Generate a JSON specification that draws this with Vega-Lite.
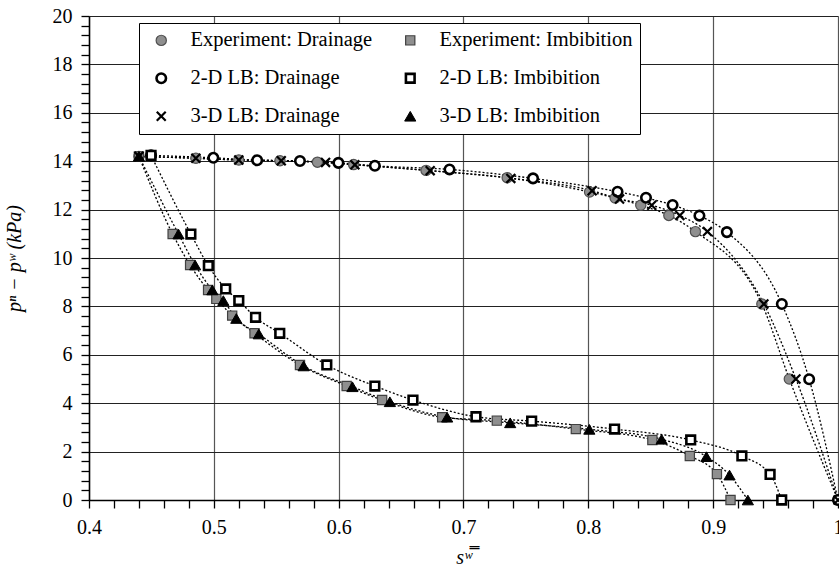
{
  "$schema": "https://vega.github.io/schema/vega-lite/v6.json",
  "width": 749,
  "height": 484,
  "autosize": {"type": "none"},
  "padding": {"left": 89, "top": 16, "right": 1, "bottom": 69},
  "background": "white",
  "config": {"view": {"stroke": null}, "font": "'Liberation Serif', 'DejaVu Serif', serif",
    "style": {"guide-label": {"font": "Liberation Serif"}, "guide-title": {"font": "Liberation Serif"}}},
  "data": {"values": [
    {"series": "Experiment: Drainage", "s": 0.440, "p": 14.2},
    {"series": "Experiment: Drainage", "s": 0.4856, "p": 14.12},
    {"series": "Experiment: Drainage", "s": 0.520, "p": 14.05},
    {"series": "Experiment: Drainage", "s": 0.553, "p": 14.02},
    {"series": "Experiment: Drainage", "s": 0.583, "p": 13.96},
    {"series": "Experiment: Drainage", "s": 0.612, "p": 13.86},
    {"series": "Experiment: Drainage", "s": 0.670, "p": 13.62},
    {"series": "Experiment: Drainage", "s": 0.735, "p": 13.32},
    {"series": "Experiment: Drainage", "s": 0.801, "p": 12.73},
    {"series": "Experiment: Drainage", "s": 0.8215, "p": 12.48},
    {"series": "Experiment: Drainage", "s": 0.842, "p": 12.18},
    {"series": "Experiment: Drainage", "s": 0.8645, "p": 11.76},
    {"series": "Experiment: Drainage", "s": 0.8858, "p": 11.09},
    {"series": "Experiment: Drainage", "s": 0.939, "p": 8.10},
    {"series": "Experiment: Drainage", "s": 0.961, "p": 5.0},
    {"series": "Experiment: Drainage", "s": 1.0, "p": 0},
    {"series": "Experiment: Imbibition", "s": 0.440, "p": 14.2},
    {"series": "Experiment: Imbibition", "s": 0.467, "p": 10.99},
    {"series": "Experiment: Imbibition", "s": 0.481, "p": 9.71},
    {"series": "Experiment: Imbibition", "s": 0.4954, "p": 8.68},
    {"series": "Experiment: Imbibition", "s": 0.502, "p": 8.31},
    {"series": "Experiment: Imbibition", "s": 0.5147, "p": 7.62},
    {"series": "Experiment: Imbibition", "s": 0.5326, "p": 6.89},
    {"series": "Experiment: Imbibition", "s": 0.569, "p": 5.58},
    {"series": "Experiment: Imbibition", "s": 0.6064, "p": 4.71},
    {"series": "Experiment: Imbibition", "s": 0.6348, "p": 4.13},
    {"series": "Experiment: Imbibition", "s": 0.6829, "p": 3.42},
    {"series": "Experiment: Imbibition", "s": 0.7267, "p": 3.28},
    {"series": "Experiment: Imbibition", "s": 0.790, "p": 2.93},
    {"series": "Experiment: Imbibition", "s": 0.8513, "p": 2.48},
    {"series": "Experiment: Imbibition", "s": 0.8813, "p": 1.82},
    {"series": "Experiment: Imbibition", "s": 0.903, "p": 1.07},
    {"series": "Experiment: Imbibition", "s": 0.9139, "p": 0},
    {"series": "2-D LB: Drainage", "s": 0.4497, "p": 14.24},
    {"series": "2-D LB: Drainage", "s": 0.4996, "p": 14.14},
    {"series": "2-D LB: Drainage", "s": 0.5347, "p": 14.04},
    {"series": "2-D LB: Drainage", "s": 0.569, "p": 14.01},
    {"series": "2-D LB: Drainage", "s": 0.5998, "p": 13.93},
    {"series": "2-D LB: Drainage", "s": 0.629, "p": 13.81},
    {"series": "2-D LB: Drainage", "s": 0.6888, "p": 13.66},
    {"series": "2-D LB: Drainage", "s": 0.7557, "p": 13.29},
    {"series": "2-D LB: Drainage", "s": 0.8234, "p": 12.74},
    {"series": "2-D LB: Drainage", "s": 0.8462, "p": 12.49},
    {"series": "2-D LB: Drainage", "s": 0.8675, "p": 12.19},
    {"series": "2-D LB: Drainage", "s": 0.889, "p": 11.75},
    {"series": "2-D LB: Drainage", "s": 0.911, "p": 11.07},
    {"series": "2-D LB: Drainage", "s": 0.955, "p": 8.10},
    {"series": "2-D LB: Drainage", "s": 0.9769, "p": 4.99},
    {"series": "2-D LB: Drainage", "s": 1.0, "p": 0},
    {"series": "2-D LB: Imbibition", "s": 0.4497, "p": 14.24},
    {"series": "2-D LB: Imbibition", "s": 0.4816, "p": 10.99},
    {"series": "2-D LB: Imbibition", "s": 0.4956, "p": 9.68},
    {"series": "2-D LB: Imbibition", "s": 0.5095, "p": 8.72},
    {"series": "2-D LB: Imbibition", "s": 0.520, "p": 8.24},
    {"series": "2-D LB: Imbibition", "s": 0.5334, "p": 7.55},
    {"series": "2-D LB: Imbibition", "s": 0.5528, "p": 6.89},
    {"series": "2-D LB: Imbibition", "s": 0.5905, "p": 5.58},
    {"series": "2-D LB: Imbibition", "s": 0.629, "p": 4.71},
    {"series": "2-D LB: Imbibition", "s": 0.6595, "p": 4.13},
    {"series": "2-D LB: Imbibition", "s": 0.710, "p": 3.44},
    {"series": "2-D LB: Imbibition", "s": 0.7546, "p": 3.26},
    {"series": "2-D LB: Imbibition", "s": 0.821, "p": 2.93},
    {"series": "2-D LB: Imbibition", "s": 0.882, "p": 2.48},
    {"series": "2-D LB: Imbibition", "s": 0.923, "p": 1.82},
    {"series": "2-D LB: Imbibition", "s": 0.9456, "p": 1.06},
    {"series": "2-D LB: Imbibition", "s": 0.9549, "p": 0},
    {"series": "3-D LB: Drainage", "s": 0.440, "p": 14.2},
    {"series": "3-D LB: Drainage", "s": 0.4856, "p": 14.12},
    {"series": "3-D LB: Drainage", "s": 0.520, "p": 14.05},
    {"series": "3-D LB: Drainage", "s": 0.554, "p": 14.02},
    {"series": "3-D LB: Drainage", "s": 0.5895, "p": 13.95},
    {"series": "3-D LB: Drainage", "s": 0.613, "p": 13.85},
    {"series": "3-D LB: Drainage", "s": 0.6733, "p": 13.61},
    {"series": "3-D LB: Drainage", "s": 0.7379, "p": 13.29},
    {"series": "3-D LB: Drainage", "s": 0.803, "p": 12.78},
    {"series": "3-D LB: Drainage", "s": 0.825, "p": 12.44},
    {"series": "3-D LB: Drainage", "s": 0.8508, "p": 12.18},
    {"series": "3-D LB: Drainage", "s": 0.8733, "p": 11.76},
    {"series": "3-D LB: Drainage", "s": 0.8954, "p": 11.09},
    {"series": "3-D LB: Drainage", "s": 0.9406, "p": 8.10},
    {"series": "3-D LB: Drainage", "s": 0.9663, "p": 5.0},
    {"series": "3-D LB: Drainage", "s": 1.0, "p": 0},
    {"series": "3-D LB: Imbibition", "s": 0.440, "p": 14.2},
    {"series": "3-D LB: Imbibition", "s": 0.4717, "p": 10.99},
    {"series": "3-D LB: Imbibition", "s": 0.485, "p": 9.71},
    {"series": "3-D LB: Imbibition", "s": 0.4988, "p": 8.68},
    {"series": "3-D LB: Imbibition", "s": 0.5076, "p": 8.24},
    {"series": "3-D LB: Imbibition", "s": 0.518, "p": 7.5},
    {"series": "3-D LB: Imbibition", "s": 0.536, "p": 6.86},
    {"series": "3-D LB: Imbibition", "s": 0.5719, "p": 5.54},
    {"series": "3-D LB: Imbibition", "s": 0.611, "p": 4.68},
    {"series": "3-D LB: Imbibition", "s": 0.641, "p": 4.06},
    {"series": "3-D LB: Imbibition", "s": 0.6869, "p": 3.42},
    {"series": "3-D LB: Imbibition", "s": 0.7374, "p": 3.19},
    {"series": "3-D LB: Imbibition", "s": 0.8008, "p": 2.92},
    {"series": "3-D LB: Imbibition", "s": 0.8587, "p": 2.51},
    {"series": "3-D LB: Imbibition", "s": 0.8946, "p": 1.79},
    {"series": "3-D LB: Imbibition", "s": 0.9131, "p": 1.03},
    {"series": "3-D LB: Imbibition", "s": 0.9278, "p": 0}
  ]},
  "encoding": {
    "x": {
      "field": "s", "type": "quantitative",
      "scale": {"domain": [0.4, 1.0], "nice": false, "zero": false},
      "axis": {
        "values": [0.4,0.42,0.44,0.46,0.48,0.5,0.52,0.54,0.56,0.58,0.6,0.62,0.64,0.66,0.68,0.7,0.72,0.74,0.76,0.78,0.8,0.82,0.84,0.86,0.88,0.9,0.92,0.94,0.96,0.98,1.0],
        "labelExpr": "abs(datum.value*10-round(datum.value*10))<0.001 ? format(datum.value,'.1~f') : ''",
        "gridOpacity": {"condition": {"test": "abs(datum.value*10-round(datum.value*10))<0.001", "value": 1}, "value": 0},
        "gridColor": "#555555", "gridWidth": 1.2,
        "domainColor": "black", "domainWidth": 1.5,
        "tickColor": "black", "tickWidth": 1.3, "tickSize": 8,
        "labelFont": "Liberation Serif", "labelFontSize": 20, "labelColor": "black",
        "labelPadding": 9, "labelOverlap": false, "labelFlush": false, "labelBound": false,
        "title": "sʷ̿",
        "titleFont": "Liberation Serif", "titleFontSize": 20, "titleFontWeight": "normal",
        "titleFontStyle": "italic", "titleColor": "black", "titlePadding": 10
      }
    },
    "y": {
      "field": "p", "type": "quantitative",
      "scale": {"domain": [0, 20], "nice": false},
      "axis": {
        "values": [0,0.4,0.8,1.2,1.6,2,2.4,2.8,3.2,3.6,4,4.4,4.8,5.2,5.6,6,6.4,6.8,7.2,7.6,8,8.4,8.8,9.2,9.6,10,10.4,10.8,11.2,11.6,12,12.4,12.8,13.2,13.6,14,14.4,14.8,15.2,15.6,16,16.4,16.8,17.2,17.6,18,18.4,18.8,19.2,19.6,20],
        "labelExpr": "abs(datum.value/2-round(datum.value/2))<0.001 ? format(datum.value,'d') : ''",
        "gridOpacity": {"condition": {"test": "abs(datum.value/2-round(datum.value/2))<0.001", "value": 1}, "value": 0},
        "gridColor": "#222222", "gridWidth": 1.2,
        "domainColor": "black", "domainWidth": 1.5,
        "tickColor": "black", "tickWidth": 1.3, "tickSize": 8,
        "labelFont": "Liberation Serif", "labelFontSize": 20, "labelColor": "black",
        "labelPadding": 9, "labelOverlap": false, "labelBound": false,
        "title": "pⁿ − pʷ (kPa)",
        "titleFont": "Liberation Serif", "titleFontSize": 20, "titleFontWeight": "normal",
        "titleFontStyle": "italic", "titleColor": "black", "titlePadding": 28
      }
    }
  },
  "layer": [
    {
      "mark": {"type": "line", "interpolate": "monotone", "strokeDash": [2, 2], "strokeWidth": 1.3, "color": "black"},
      "encoding": {"detail": {"field": "series", "type": "nominal"}}
    },
    {
      "mark": {"type": "point", "filled": true, "opacity": 1},
      "encoding": {
        "shape": {"field": "series", "type": "nominal",
          "scale": {"domain": ["Experiment: Drainage","2-D LB: Drainage","3-D LB: Drainage","Experiment: Imbibition","2-D LB: Imbibition","3-D LB: Imbibition"],
                    "range": ["circle","circle","M-1,-1L1,1M-1,1L1,-1","square","square","triangle-up"]},
          "legend": {"title": null, "orient": "none", "legendX": 50, "legendY": 7, "columns": 2, "fillColor": "white", "strokeColor": "black", "padding": 7, "labelFont": "'Liberation Serif', 'DejaVu Serif', serif", "labelFontSize": 20.5, "labelColor": "black", "labelLimit": 0, "symbolOffset": 5, "labelOffset": 19, "columnPadding": 22, "rowPadding": 17}},
        "fill": {"field": "series", "type": "nominal",
          "scale": {"domain": ["Experiment: Drainage","2-D LB: Drainage","3-D LB: Drainage","Experiment: Imbibition","2-D LB: Imbibition","3-D LB: Imbibition"],
                    "range": ["#8f8f8f","white","transparent","#8f8f8f","white","black"]},
          "legend": {"title": null, "orient": "none", "legendX": 50, "legendY": 7, "columns": 2, "fillColor": "white", "strokeColor": "black", "padding": 7, "labelFont": "'Liberation Serif', 'DejaVu Serif', serif", "labelFontSize": 20.5, "labelColor": "black", "labelLimit": 0, "symbolOffset": 5, "labelOffset": 19, "columnPadding": 22, "rowPadding": 17}},
        "stroke": {"field": "series", "type": "nominal",
          "scale": {"domain": ["Experiment: Drainage","2-D LB: Drainage","3-D LB: Drainage","Experiment: Imbibition","2-D LB: Imbibition","3-D LB: Imbibition"],
                    "range": ["#505050","black","black","#404040","black","black"]},
          "legend": {"title": null, "orient": "none", "legendX": 50, "legendY": 7, "columns": 2, "fillColor": "white", "strokeColor": "black", "padding": 7, "labelFont": "'Liberation Serif', 'DejaVu Serif', serif", "labelFontSize": 20.5, "labelColor": "black", "labelLimit": 0, "symbolOffset": 5, "labelOffset": 19, "columnPadding": 22, "rowPadding": 17}},
        "strokeWidth": {"field": "series", "type": "nominal",
          "scale": {"type": "ordinal", "domain": ["Experiment: Drainage","2-D LB: Drainage","3-D LB: Drainage","Experiment: Imbibition","2-D LB: Imbibition","3-D LB: Imbibition"],
                    "range": [1.2,2.6,2.2,1.2,2.6,1]},
          "legend": {"title": null, "orient": "none", "legendX": 50, "legendY": 7, "columns": 2, "fillColor": "white", "strokeColor": "black", "padding": 7, "labelFont": "'Liberation Serif', 'DejaVu Serif', serif", "labelFontSize": 20.5, "labelColor": "black", "labelLimit": 0, "symbolOffset": 5, "labelOffset": 19, "columnPadding": 22, "rowPadding": 17}},
        "size": {"field": "series", "type": "nominal",
          "scale": {"type": "ordinal", "domain": ["Experiment: Drainage","2-D LB: Drainage","3-D LB: Drainage","Experiment: Imbibition","2-D LB: Imbibition","3-D LB: Imbibition"],
                    "range": [105,90,80,85,75,125]},
          "legend": {"title": null, "orient": "none", "legendX": 50, "legendY": 7, "columns": 2, "fillColor": "white", "strokeColor": "black", "padding": 7, "labelFont": "'Liberation Serif', 'DejaVu Serif', serif", "labelFontSize": 20.5, "labelColor": "black", "labelLimit": 0, "symbolOffset": 5, "labelOffset": 19, "columnPadding": 22, "rowPadding": 17}}
      }
    }
  ]
}
